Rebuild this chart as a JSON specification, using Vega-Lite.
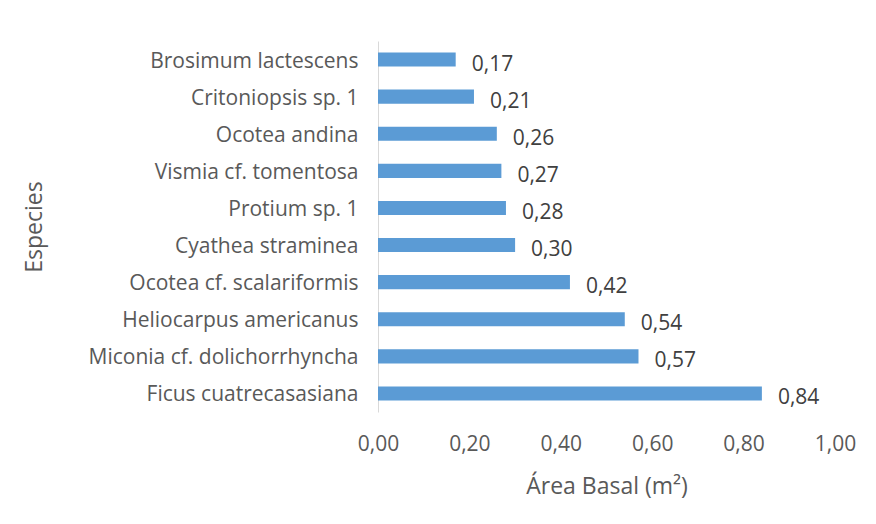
{
  "$schema": "https://vega.github.io/schema/vega-lite/v6.json",
  "autosize": {"type": "none"},
  "width": 457,
  "height": 371,
  "padding": {"left": 378, "top": 41, "right": 41, "bottom": 112},
  "background": "white",
  "config": {
    "locale": {"number": {"decimal": ",", "thousands": ".", "grouping": [3], "currency": ["", ""]}},
    "view": {"stroke": null},
    "font": "Open Sans",
    "text": {"font": "Open Sans"}
  },
  "data": {
    "values": [
      {"especie": "Brosimum lactescens", "area": 0.17},
      {"especie": "Critoniopsis sp. 1", "area": 0.21},
      {"especie": "Ocotea andina", "area": 0.26},
      {"especie": "Vismia cf. tomentosa", "area": 0.27},
      {"especie": "Protium sp. 1", "area": 0.28},
      {"especie": "Cyathea straminea", "area": 0.30},
      {"especie": "Ocotea cf. scalariformis", "area": 0.42},
      {"especie": "Heliocarpus americanus", "area": 0.54},
      {"especie": "Miconia cf. dolichorrhyncha", "area": 0.57},
      {"especie": "Ficus cuatrecasasiana", "area": 0.84}
    ]
  },
  "encoding": {
    "y": {
      "field": "especie",
      "type": "nominal",
      "sort": null,
      "scale": {"paddingInner": 0.62, "paddingOuter": 0.31},
      "axis": {
        "title": "Especies",
        "titleFont": "Open Sans",
        "titleFontSize": 23,
        "titleFontWeight": "normal",
        "titleColor": "#595959",
        "titleX": -332,
        "labelFont": "Open Sans",
        "labelFontSize": 21,
        "labelColor": "#595959",
        "labelPadding": 20,
        "labelOffset": 2,
        "labelLimit": 0,
        "ticks": false,
        "domainColor": "#d9d9d9",
        "domainWidth": 1
      }
    },
    "x": {
      "field": "area",
      "type": "quantitative",
      "scale": {"domain": [0, 1], "nice": false},
      "axis": {
        "title": "Área Basal (m²)",
        "titleFont": "Open Sans",
        "titleFontSize": 23,
        "titleFontWeight": "normal",
        "titleColor": "#595959",
        "titlePadding": 21,
        "values": [0, 0.2, 0.4, 0.6, 0.8, 1.0],
        "format": ".2f",
        "labelFont": "Open Sans",
        "labelFontSize": 21,
        "labelColor": "#595959",
        "labelPadding": 21,
        "labelFlush": false,
        "ticks": false,
        "domain": false,
        "grid": false
      }
    }
  },
  "layer": [
    {"mark": {"type": "bar", "color": "#5b9bd5"}},
    {
      "mark": {"type": "text", "align": "left", "baseline": "middle", "dx": 16, "dy": 5, "fontSize": 21, "color": "#404040", "font": "Open Sans"},
      "encoding": {"text": {"field": "area", "type": "quantitative", "format": ".2f"}}
    }
  ]
}
